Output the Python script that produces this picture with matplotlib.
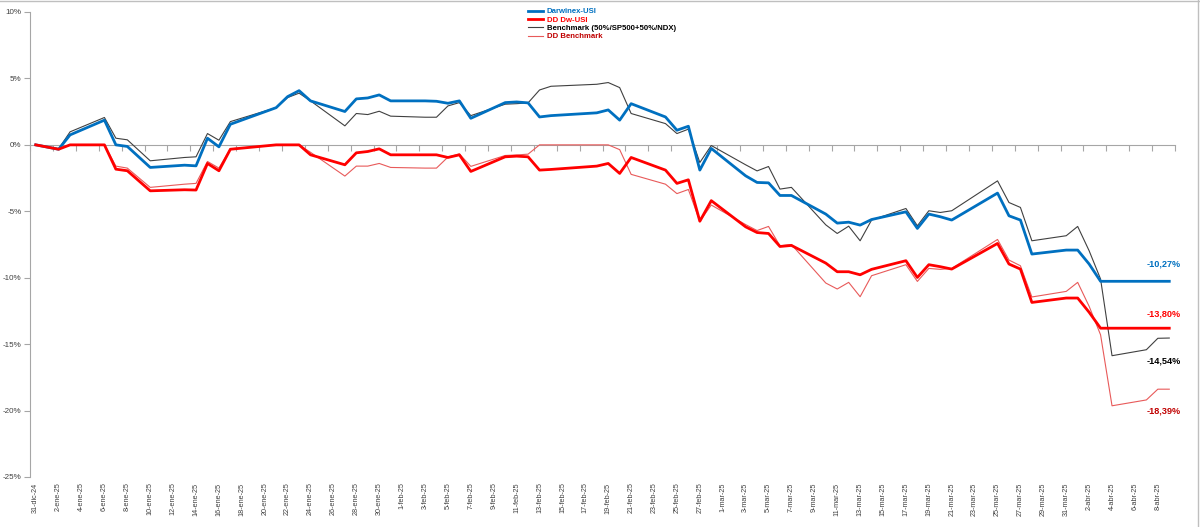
import matplotlib
matplotlib.use("Agg")
import matplotlib.pyplot as plt
import matplotlib.dates as mdates
import pandas as pd
from matplotlib.lines import Line2D

plt.rcParams['font.family'] = ['Liberation Sans', 'DejaVu Sans']

# --- data (% values) ---
dates = [
    "2024-12-31", "2025-01-02", "2025-01-03", "2025-01-06", "2025-01-07", "2025-01-08",
    "2025-01-10", "2025-01-13", "2025-01-14", "2025-01-15", "2025-01-16", "2025-01-17",
    "2025-01-21", "2025-01-22", "2025-01-23", "2025-01-24", "2025-01-27", "2025-01-28",
    "2025-01-29", "2025-01-30", "2025-01-31", "2025-02-03", "2025-02-04", "2025-02-05",
    "2025-02-06", "2025-02-07", "2025-02-10", "2025-02-11", "2025-02-12", "2025-02-13",
    "2025-02-14", "2025-02-18", "2025-02-19", "2025-02-20", "2025-02-21", "2025-02-24",
    "2025-02-25", "2025-02-26", "2025-02-27", "2025-02-28", "2025-03-03", "2025-03-04",
    "2025-03-05", "2025-03-06", "2025-03-07", "2025-03-10", "2025-03-11", "2025-03-12",
    "2025-03-13", "2025-03-14", "2025-03-17", "2025-03-18", "2025-03-19", "2025-03-20",
    "2025-03-21", "2025-03-25", "2025-03-26", "2025-03-27", "2025-03-28", "2025-03-31",
    "2025-04-01", "2025-04-02", "2025-04-03", "2025-04-04", "2025-04-07", "2025-04-08",
    "2025-04-09",
]

darwinex = [
    0.00, -0.33, 0.75, 1.86, 0.00, -0.12,
    -1.70, -1.53, -1.58, 0.50, -0.15, 1.55,
    2.80, 3.63, 4.08, 3.31, 2.51, 3.46,
    3.53, 3.76, 3.31, 3.31, 3.28, 3.13,
    3.31, 2.00, 3.18, 3.23, 3.16, 2.10,
    2.20, 2.41, 2.63, 1.86, 3.10, 2.10,
    1.10, 1.40, -1.90, -0.27, -2.33, -2.83,
    -2.86, -3.81, -3.81, -5.21, -5.89, -5.82,
    -6.04, -5.62, -5.04, -6.29, -5.21, -5.41,
    -5.66, -3.63, -5.34, -5.66, -8.22, -7.92,
    -7.92, -8.97, -10.27, -10.27, -10.27, -10.27,
    -10.27,
]

dd_darwinex = [
    0.00, -0.33, 0.00, 0.00, -1.83, -1.95,
    -3.46, -3.38, -3.40, -1.40, -1.95, -0.33,
    0.00, 0.00, 0.00, -0.75, -1.50, -0.60,
    -0.50, -0.30, -0.75, -0.75, -0.75, -0.95,
    -0.75, -2.00, -0.90, -0.85, -0.90, -1.90,
    -1.85, -1.60, -1.40, -2.15, -0.95, -1.90,
    -2.90, -2.63, -5.75, -4.20, -6.17, -6.60,
    -6.67, -7.65, -7.57, -8.90, -9.55, -9.55,
    -9.78, -9.37, -8.72, -9.98, -9.02, -9.17,
    -9.35, -7.42, -8.97, -9.35, -11.86, -11.53,
    -11.53, -12.60, -13.80, -13.80, -13.80, -13.80,
    -13.80,
]

benchmark = [
    0.00, -0.30, 0.98, 2.06, 0.50, 0.38,
    -1.20, -0.95, -0.90, 0.85, 0.35, 1.75,
    2.80, 3.56, 3.89, 3.31, 1.43, 2.36,
    2.28, 2.53, 2.16, 2.08, 2.08, 2.93,
    3.18, 2.20, 3.06, 3.10, 3.16, 4.13,
    4.41, 4.56, 4.69, 4.31, 2.36, 1.60,
    0.85, 1.18, -1.33, -0.05, -1.50, -1.96,
    -1.63, -3.33, -3.20, -6.02, -6.67, -6.12,
    -7.22, -5.66, -4.79, -6.09, -4.96, -5.09,
    -4.96, -2.71, -4.34, -4.71, -7.22, -6.84,
    -6.14, -7.97, -10.10, -15.87, -15.42, -14.56,
    -14.54,
]

dd_benchmark = [
    0.00, -0.30, 0.00, 0.00, -1.60, -1.75,
    -3.20, -2.96, -2.90, -1.25, -1.75, -0.30,
    0.00, 0.00, 0.00, -0.56, -2.35, -1.60,
    -1.60, -1.40, -1.70, -1.75, -1.75, -0.92,
    -0.68, -1.62, -0.80, -0.76, -0.70, 0.00,
    0.00, 0.00, 0.00, -0.36, -2.22, -2.96,
    -3.67, -3.36, -5.75, -4.53, -6.00, -6.45,
    -6.14, -7.60, -7.50, -10.40, -10.85, -10.35,
    -11.43, -9.85, -9.02, -10.28, -9.30, -9.37,
    -9.30, -7.12, -8.67, -9.10, -11.45, -11.03,
    -10.35, -12.15, -14.30, -19.64, -19.20, -18.39,
    -18.39,
]

series_names = ["Darwinex-USI", "DD Dw-USI", "Benchmark (50%/SP500+50%/NDX)", "DD Benchmark"]
end_labels = ["-10,27%", "-13,80%", "-14,54%", "-18,39%"]

meses = {1: "ene", 2: "feb", 3: "mar", 4: "abr", 12: "dic"}

x = pd.to_datetime(dates)
one_day = pd.Timedelta(days=1)
half_day = pd.Timedelta(hours=12)

fig = plt.figure(figsize=(12, 5.27), dpi=100)
ax = fig.add_axes([30 / 1200, 1 - 477 / 527, 1145 / 1200, 465 / 527])

ax.plot(x, darwinex, color="#0070C0", lw=2.0, label=series_names[0], zorder=4)
ax.plot(x, dd_darwinex, color="#FF0000", lw=2.0, label=series_names[1], zorder=4)
ax.plot(x, benchmark, color="#404040", lw=0.8, label=series_names[2], zorder=3)
ax.plot(x, dd_benchmark, color="#E85A5A", lw=0.8, label=series_names[3], zorder=3)

ax.set_ylim(-25, 10)
ax.set_xlim(x[0] - half_day, x[-1] + half_day)

# y axis
ax.set_yticks(range(-25, 11, 5))
ax.set_yticklabels([f"{v}%" for v in range(-25, 11, 5)])
ax.tick_params(axis="y", labelsize=5.8, length=4, width=0.8, pad=2, colors="#A6A6A6", labelcolor="#404040")
ax.spines["left"].set_color("#A6A6A6")
ax.spines["top"].set_visible(False)
ax.spines["right"].set_visible(False)

# x axis line crosses at 0, tick marks between categories every 2 days
ax.spines["bottom"].set_position(("data", 0))
ax.spines["bottom"].set_color("#A6A6A6")
label_days = pd.date_range(x[0], x[-1], freq="2D")
ax.set_xticks(list(label_days - half_day) + [x[-1] + half_day])
ax.tick_params(axis="x", labelbottom=False, length=4, width=0.8, colors="#A6A6A6", direction="out")

for d in label_days:
    txt = f"{d.day}-{meses[d.month]}-{d.strftime('%y')}"
    ax.text(mdates.date2num(d), -0.012, txt, rotation=90, ha="center", va="top",
            fontsize=5.2, color="#404040", transform=ax.get_xaxis_transform())

# end value labels
lx = x[-1] - half_day
ax.text(lx, darwinex[-1] + 1.3, end_labels[0], color="#0070C0", fontsize=6.6, fontweight="bold", ha="center", va="center")
ax.text(lx, dd_darwinex[-1] + 1.1, end_labels[1], color="#FF0000", fontsize=6.6, fontweight="bold", ha="center", va="center")
ax.text(lx, benchmark[-1] - 1.7, end_labels[2], color="#000000", fontsize=6.6, fontweight="bold", ha="center", va="center")
ax.text(lx, dd_benchmark[-1] - 1.65, end_labels[3], color="#C00000", fontsize=6.6, fontweight="bold", ha="center", va="center")

# legend
leg = ax.legend(loc="upper left", bbox_to_anchor=(524 / 1200, 1 - 4 / 527), bbox_transform=fig.transFigure,
                frameon=False, handlelength=2.0, handletextpad=0.4, labelspacing=0.12,
                borderpad=0, prop={"weight": "bold", "size": 5.6})
for t, c in zip(leg.get_texts(), ["#0070C0", "#FF0000", "#000000", "#C00000"]):
    t.set_color(c)

# light outer frame like the spreadsheet chart border
fig.add_artist(Line2D([0, 1], [0.999, 0.999], transform=fig.transFigure, color="#BFBFBF", lw=1))
fig.add_artist(Line2D([0.998, 0.998], [0, 1], transform=fig.transFigure, color="#BFBFBF", lw=1))

fig.savefig("out.png", dpi=100)
